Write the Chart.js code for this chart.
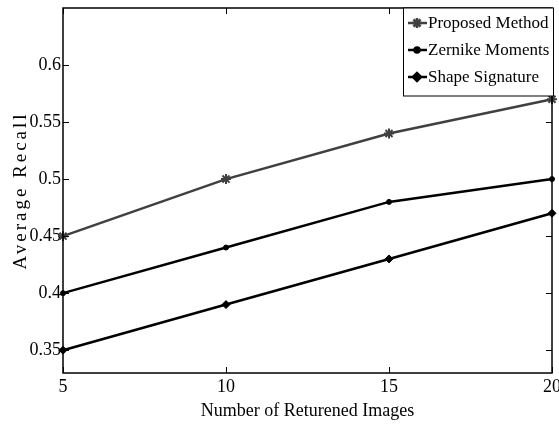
<!DOCTYPE html>
<html>
<head>
<meta charset="utf-8">
<script src="https://cdn.jsdelivr.net/npm/chart.js@4/dist/chart.umd.min.js"></script>
<style>
html, body { margin: 0; padding: 0; background: #fff; }
#wrap { width: 559px; height: 426px; }
</style>
</head>
<body>
<div id="wrap"><canvas id="recallChart" width="559" height="426"></canvas></div>
<script>
// values
var returned = [5, 10, 15, 20];
var proposed = [0.45, 0.50, 0.54, 0.57];
var zernike = [0.40, 0.44, 0.48, 0.50];
var shapeSig = [0.35, 0.39, 0.43, 0.47];

var xTicks = [5, 10, 15, 20];
var yTicks = [0.35, 0.4, 0.45, 0.5, 0.55, 0.6];
var seriesNames = ['Proposed Method', 'Zernike Moments', 'Shape Signature'];

var FONT = '"Liberation Serif", "Times New Roman", serif';

function pairs(ys) {
    return returned.map(function (x, i) { return { x: x, y: ys[i] }; });
}

// box round the plot + inward ticks on all four sides
var frame = {
    id: 'frame',
    afterDatasetsDraw: function (chart) {
        var ctx = chart.ctx, a = chart.chartArea;
        var xs = chart.scales.x, ys = chart.scales.y;
        ctx.save();
        ctx.strokeStyle = '#000';
        ctx.lineWidth = 1.5;
        ctx.strokeRect(a.left, a.top, a.right - a.left, a.bottom - a.top);
        ctx.lineWidth = 1;
        ctx.beginPath();
        xTicks.forEach(function (v) {
            var px = Math.round(xs.getPixelForValue(v)) + 0.5;
            ctx.moveTo(px, a.bottom); ctx.lineTo(px, a.bottom - 6);
            ctx.moveTo(px, a.top); ctx.lineTo(px, a.top + 6);
        });
        yTicks.forEach(function (v) {
            var py = Math.round(ys.getPixelForValue(v)) + 0.5;
            ctx.moveTo(a.left, py); ctx.lineTo(a.left + 6, py);
            ctx.moveTo(a.right, py); ctx.lineTo(a.right - 6, py);
        });
        ctx.stroke();
        ctx.restore();
    }
};

// legend box (line sample + marker) and spaced y title
var extras = {
    id: 'extras',
    afterDraw: function (chart) {
        var ctx = chart.ctx, a = chart.chartArea;
        ctx.save();
        ctx.fillStyle = '#fff';
        ctx.fillRect(403, a.top, 150, 88);
        ctx.strokeStyle = '#000';
        ctx.lineWidth = 1;
        ctx.strokeRect(403.5, a.top, 150, 88);

        chart.data.datasets.forEach(function (ds, i) {
            var y = 23 + 27 * i;
            ctx.strokeStyle = ds.borderColor;
            ctx.fillStyle = ds.borderColor;
            ctx.lineWidth = 2.5;
            ctx.beginPath();
            ctx.moveTo(408, y); ctx.lineTo(427, y);
            ctx.stroke();
            Chart.helpers.drawPoint(ctx, {
                pointStyle: ds.pointStyle, radius: ds.pointRadius,
                rotation: 0, borderWidth: ds.pointBorderWidth
            }, 417, y);
            ctx.fillStyle = '#000';
            ctx.font = '17px ' + FONT;
            ctx.textAlign = 'left';
            ctx.textBaseline = 'middle';
            ctx.fillText(ds.label, 428, y + 1);
        });

        ctx.translate(21, (a.top + a.bottom) / 2);
        ctx.rotate(-Math.PI / 2);
        ctx.fillStyle = '#000';
        ctx.font = '19px ' + FONT;
        ctx.letterSpacing = '3px';
        ctx.textAlign = 'center';
        ctx.textBaseline = 'middle';
        ctx.fillText('Average Recall', 0, 0);
        ctx.restore();
    }
};

var recallChart = new Chart(document.getElementById('recallChart'), {
    type: 'line',
    data: {
        datasets: [{
            label: seriesNames[0],
            data: pairs(proposed),
            borderColor: '#404040',
            backgroundColor: '#404040',
            borderWidth: 2.5,
            pointStyle: 'star',
            pointRadius: 5,
            pointBorderWidth: 2,
            clip: false
        }, {
            label: seriesNames[1],
            data: pairs(zernike),
            borderColor: '#000',
            backgroundColor: '#000',
            borderWidth: 2.5,
            pointStyle: 'circle',
            pointRadius: 2.5,
            pointBorderWidth: 1,
            clip: false
        }, {
            label: seriesNames[2],
            data: pairs(shapeSig),
            borderColor: '#000',
            backgroundColor: '#000',
            borderWidth: 2.5,
            pointStyle: 'rectRot',
            pointRadius: 4,
            pointBorderWidth: 1,
            clip: false
        }]
    },
    options: {
        responsive: false,
        animation: false,
        layout: { padding: { top: 8, right: 6, left: 0, bottom: 0 } },
        plugins: { legend: { display: false }, tooltip: { enabled: false } },
        scales: {
            x: {
                type: 'linear',
                min: 5,
                max: 20,
                grid: { display: false, drawTicks: false },
                border: { display: false },
                afterBuildTicks: function (s) { s.ticks = xTicks.map(function (v) { return { value: v }; }); },
                afterFit: function (s) { s.height = 53; s.paddingLeft = 0; s.paddingRight = 0; },
                ticks: { color: '#000', padding: 3, maxRotation: 0, font: { family: FONT, size: 18 } },
                title: {
                    display: true,
                    text: 'Number of Returened Images',
                    color: '#000',
                    padding: { top: 0, bottom: 4 },
                    font: { family: FONT, size: 18 }
                }
            },
            y: {
                min: 0.33,
                max: 0.65,
                grid: { display: false, drawTicks: false },
                border: { display: false },
                afterBuildTicks: function (s) { s.ticks = yTicks.map(function (v) { return { value: v }; }); },
                afterFit: function (s) { s.width = 63; s.paddingTop = 0; s.paddingBottom = 0; },
                ticks: {
                    color: '#000', padding: 2, font: { family: FONT, size: 18 },
                    callback: function (v) { return String(v); }
                }
            }
        }
    },
    plugins: [frame, extras]
});
</script>
</body>
</html>
